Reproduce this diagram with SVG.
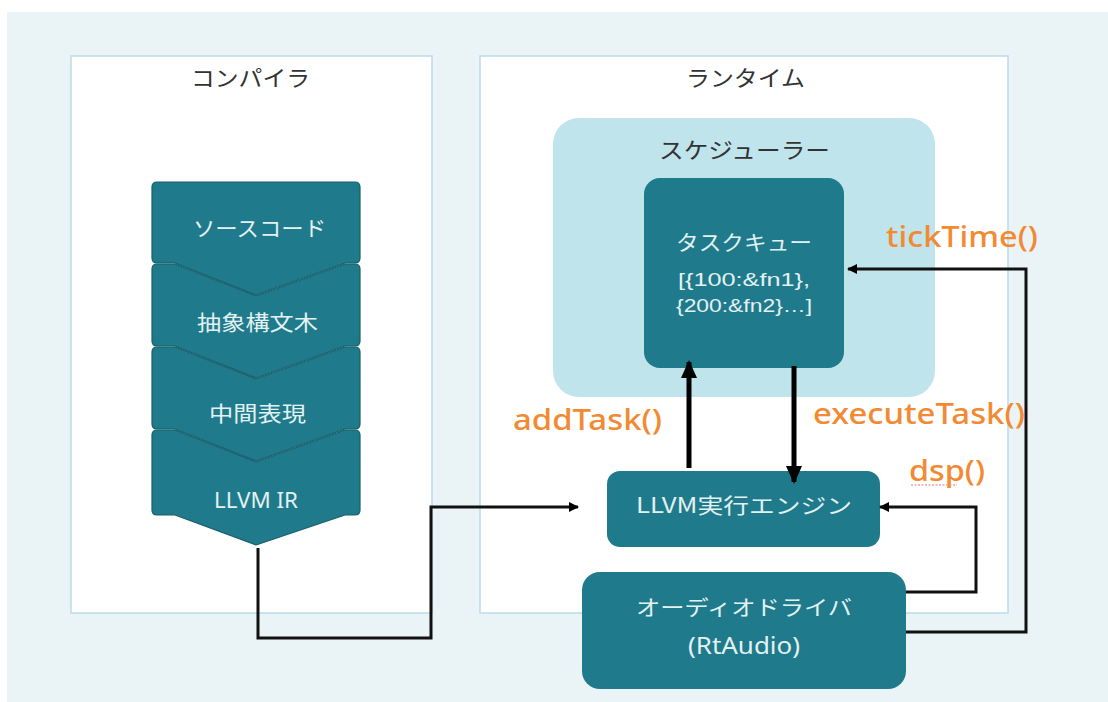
<svg xmlns="http://www.w3.org/2000/svg" width="1108" height="702" viewBox="0 0 1108 702">
<defs>
<style>
.bg{fill:#EAF3F6}
.panel{fill:#FFFFFF;stroke:#B9DDE6;stroke-width:1.5}
.sched{fill:#BFE4EC}
.teal{fill:#1F7B8B}
.chev{fill:#1F7B8B;stroke:#175E6A;stroke-width:1.2;stroke-linejoin:round}
.title{font-family:"Noto Sans CJK JP","Noto Sans",sans-serif;font-size:22px;fill:#333333}
.wt{font-family:"Noto Sans CJK JP","Noto Sans",sans-serif;font-size:21px;fill:#E4F1F3}
.wl{font-family:"Noto Sans","Noto Sans CJK JP",sans-serif;font-size:21px;fill:#E4F1F3}
.wq{font-family:"Liberation Sans","Noto Sans",sans-serif;font-size:18px;fill:#E4F1F3}
.lab{font-family:"Noto Sans","Liberation Sans",sans-serif;font-size:28px;font-weight:500;fill:#F28A33}
.ln{fill:none;stroke:#111111;stroke-width:3}
.thick{fill:none;stroke:#000000;stroke-width:5}
</style>
<marker id="ah" markerWidth="10" markerHeight="10" refX="9" refY="5" orient="auto" markerUnits="userSpaceOnUse" viewBox="0 0 10 10">
<path d="M0,0 L10,5 L0,10 z" fill="#000"/>
</marker>
<marker id="ahb" markerWidth="18" markerHeight="18" refX="16" refY="9" orient="auto" markerUnits="userSpaceOnUse" viewBox="0 0 18 18">
<path d="M0,1 L18,9 L0,17 z" fill="#000"/>
</marker>
</defs>
<rect class="bg" x="7" y="12" width="1101" height="690"/>
<g id="compiler-panel">
<rect class="panel" x="71" y="56" width="361" height="557"/>
<text class="title" x="191" y="86" textLength="119" lengthAdjust="spacingAndGlyphs">コンパイラ</text>
</g>
<g id="runtime-panel">
<rect class="panel" x="480" y="56" width="528" height="557"/>
<text class="title" x="686" y="86" textLength="119" lengthAdjust="spacingAndGlyphs">ランタイム</text>
</g>
<g id="scheduler">
<rect class="sched" x="553" y="118" width="382" height="279" rx="26"/>
<text class="title" x="659" y="158" textLength="171" lengthAdjust="spacingAndGlyphs">スケジューラー</text>
</g>
<g id="task-queue">
<rect class="teal" x="644" y="178" width="200" height="190" rx="16"/>
<text class="wt" x="676" y="250" textLength="136" lengthAdjust="spacingAndGlyphs">タスクキュー</text>
<text class="wq" x="678" y="286" textLength="132" lengthAdjust="spacingAndGlyphs">[{100:&amp;fn1},</text>
<text class="wq" x="676" y="312" textLength="136" lengthAdjust="spacingAndGlyphs">{200:&amp;fn2}…]</text>
</g>
<g id="source-code">
<path class="chev" d="M157,182 L355,182 Q360,182 360,187 L360,258 Q360,263 355,263 L345,263 L256,295 L175,263 L157,263 Q152,263 152,258 L152,187 Q152,182 157,182 z"/>
<text class="wt" x="193" y="236" textLength="133" lengthAdjust="spacingAndGlyphs">ソースコード</text>
</g>
<g id="ast">
<path class="chev" d="M157,264 L175,264 L256,296 L345,264 L355,264 Q360,264 360,269 L360,341 Q360,346 355,346 L345,346 L256,378 L175,346 L157,346 Q152,346 152,341 L152,269 Q152,264 157,264 z"/>
<text class="wt" x="197" y="330" textLength="121" lengthAdjust="spacingAndGlyphs">抽象構文木</text>
</g>
<g id="ir">
<path class="chev" d="M157,347 L175,347 L256,379 L345,347 L355,347 Q360,347 360,352 L360,424 Q360,429 355,429 L345,429 L256,461 L175,429 L157,429 Q152,429 152,424 L152,352 Q152,347 157,347 z"/>
<text class="wt" x="209" y="421" textLength="97" lengthAdjust="spacingAndGlyphs">中間表現</text>
</g>
<g id="llvm-ir">
<path class="chev" d="M157,430 L175,430 L256,462 L345,430 L355,430 Q360,430 360,435 L360,510 Q360,515 355,515 L345,515 L256,545 L175,515 L157,515 Q152,515 152,510 L152,435 Q152,430 157,430 z"/>
<text class="wl" x="214" y="508" textLength="84" lengthAdjust="spacingAndGlyphs">LLVM IR</text>
</g>
<g id="llvm-engine">
<rect class="teal" x="607" y="471" width="273" height="76" rx="13"/>
<text class="wt" x="636" y="513" textLength="216" lengthAdjust="spacingAndGlyphs">LLVM実行エンジン</text>
</g>
<g id="audio-driver">
<rect class="teal" x="582" y="572" width="324" height="117" rx="18"/>
<text class="wt" x="636" y="615" textLength="216" lengthAdjust="spacingAndGlyphs">オーディオドライバ</text>
<text class="wl" x="688" y="654" textLength="112" lengthAdjust="spacingAndGlyphs" style="font-size:24px">(RtAudio)</text>
</g>
<g id="connectors">
<polyline class="ln" points="258,548 258,638 431,638 431,507 578,507" marker-end="url(#ah)"/>
<line class="thick" x1="689" y1="468" x2="689" y2="362" marker-end="url(#ahb)"/>
<line class="thick" x1="794" y1="366" x2="794" y2="482" marker-end="url(#ahb)"/>
<polyline class="ln" points="906,592 976,592 976,507 880,507" marker-end="url(#ah)"/>
<polyline class="ln" points="906,632 1026,632 1026,269 848,269" marker-end="url(#ah)"/>
</g>
<g id="labels">
<text class="lab" x="886" y="247" textLength="152" lengthAdjust="spacingAndGlyphs">tickTime()</text>
<text class="lab" x="513" y="430" textLength="149" lengthAdjust="spacingAndGlyphs">addTask()</text>
<text class="lab" x="813" y="424" textLength="212" lengthAdjust="spacingAndGlyphs">executeTask()</text>
<text class="lab" x="909" y="481" textLength="76" lengthAdjust="spacingAndGlyphs">dsp()</text>
<line x1="911" y1="485" x2="957" y2="485" stroke="#F0A0A8" stroke-width="1.5" stroke-dasharray="2,1.5"/>
</g>
</svg>
